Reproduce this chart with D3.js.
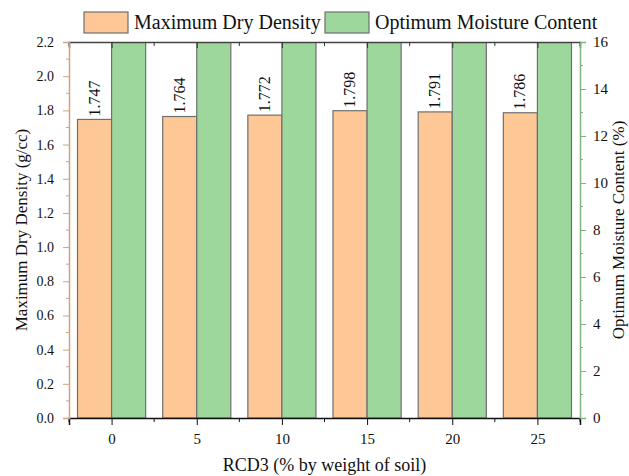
<!DOCTYPE html>
<html>
<head>
<meta charset="utf-8">
<script src="https://cdn.jsdelivr.net/npm/d3@7"></script>
<style>
  body { margin: 0; background: #fff; }
</style>
</head>
<body>
<div class="chart"></div>
<script>
// RCD3 content (% by weight of soil)
const rcd = [0, 5, 10, 15, 20, 25];
// maximum dry density (g/cc)
const mdd = [1.747, 1.764, 1.772, 1.798, 1.791, 1.786];
// optimum moisture content (%) - bars run past the 16 % top of the axis, estimated
const omc = [18.4, 18.1, 17.9, 17.6, 17.8, 18.0];
const leftTicks = d3.range(0, 2.21, 0.2);
const rightTicks = d3.range(0, 16.1, 2);

const width = 629, height = 476;
const plot = {left: 69, right: 580, top: 42, bottom: 418};

const orange = "#fdc896", green = "#9ed79b";
const tan = "#c9a585", axGreen = "#7fb57d";

const svg = d3.select(".chart")
  .append("svg")
  .attr("width", width)
  .attr("height", height);

const xScale = d3.scaleLinear()
  .domain([-2.5, 27.5])
  .range([plot.left, plot.right]);

const yLeft = d3.scaleLinear()
  .domain([0, 2.2])
  .range([plot.bottom, plot.top]);

const yRight = d3.scaleLinear()
  .domain([0, 16])
  .range([plot.bottom, plot.top]);

svg.append("clipPath")
  .attr("id", "clip")
  .append("rect")
  .attr("x", plot.left)
  .attr("y", plot.top)
  .attr("width", plot.right - plot.left)
  .attr("height", plot.bottom - plot.top);

const bars = svg.append("g").attr("clip-path", "url(#clip)");

bars.selectAll(".mdd")
  .data(rcd)
  .enter()
  .append("rect")
  .attr("class", "mdd")
  .attr("x", d => xScale(d - 2))
  .attr("width", d => xScale(d) - xScale(d - 2))
  .attr("y", (d, i) => yLeft(mdd[i]))
  .attr("height", (d, i) => yLeft(0) - yLeft(mdd[i]))
  .attr("fill", orange)
  .attr("stroke", "#6f6f6f")
  .attr("stroke-width", 1.2);

bars.selectAll(".omc")
  .data(rcd)
  .enter()
  .append("rect")
  .attr("class", "omc")
  .attr("x", d => xScale(d))
  .attr("width", d => xScale(d + 2) - xScale(d))
  .attr("y", (d, i) => yRight(omc[i]))
  .attr("height", (d, i) => yRight(0) - yRight(omc[i]))
  .attr("fill", green)
  .attr("stroke", "#6f6f6f")
  .attr("stroke-width", 1.2);

// value labels on the density bars
svg.selectAll(".lbl")
  .data(rcd)
  .enter()
  .append("text")
  .attr("class", "lbl")
  .attr("transform", (d, i) => `translate(${xScale(d - 1) + 5},${yLeft(mdd[i]) - 3}) rotate(-90)`)
  .attr("font-size", 16)
  .attr("fill", "#111")
  .text((d, i) => d3.format(".3f")(mdd[i]));

// axes
const minorX = d3.range(-2.5, 27.6, 5);

const axBottom = svg.append("g")
  .attr("transform", `translate(0,${plot.bottom})`)
  .call(d3.axisBottom(xScale).tickValues(rcd).tickSize(7).tickPadding(8).tickFormat(d3.format("d")));
axBottom.append("g").selectAll("line")
  .data(minorX).enter().append("line")
  .attr("x1", d => xScale(d)).attr("x2", d => xScale(d))
  .attr("y2", 4).attr("stroke", "#111");

const axTop = svg.append("g")
  .attr("transform", `translate(0,${plot.top})`)
  .call(d3.axisTop(xScale).tickValues(rcd).tickSize(-6).tickFormat(""));
axTop.append("g").selectAll("line")
  .data(minorX).enter().append("line")
  .attr("x1", d => xScale(d)).attr("x2", d => xScale(d))
  .attr("y2", 4).attr("stroke", "#333");

const axLeft = svg.append("g")
  .attr("transform", `translate(${plot.left},0)`)
  .call(d3.axisLeft(yLeft).tickValues(leftTicks).tickSize(6).tickPadding(9).tickFormat(d3.format(".1f")));
axLeft.append("g").selectAll("line")
  .data(d3.range(0.1, 2.2, 0.2)).enter().append("line")
  .attr("y1", d => yLeft(d)).attr("y2", d => yLeft(d))
  .attr("x2", -3).attr("stroke", tan);

const axRight = svg.append("g")
  .attr("transform", `translate(${plot.right},0)`)
  .call(d3.axisRight(yRight).tickValues(rightTicks).tickSize(6).tickPadding(7).tickFormat(d3.format("d")));
axRight.append("g").selectAll("line")
  .data(d3.range(1, 16, 2)).enter().append("line")
  .attr("y1", d => yRight(d)).attr("y2", d => yRight(d))
  .attr("x2", 3).attr("stroke", axGreen);

[axBottom, axTop, axLeft, axRight].forEach(g => {
  g.attr("font-family", null);
  g.selectAll("text").attr("font-size", 15).attr("fill", "#111");
  g.select(".domain").attr("stroke-width", 1.5);
});
axLeft.selectAll("text").attr("font-size", 14);
axBottom.selectAll("line, .domain").attr("stroke", "#111");
axTop.selectAll(".domain").attr("stroke", "#444");
axTop.selectAll(".tick line").attr("stroke", "#333");
axLeft.selectAll(".tick line, .domain").attr("stroke", tan);
axRight.selectAll(".tick line, .domain").attr("stroke", axGreen);

// axis titles
svg.append("text")
  .attr("x", (plot.left + plot.right) / 2)
  .attr("y", 471)
  .attr("text-anchor", "middle")
  .attr("font-size", 18)
  .attr("fill", "#111")
  .text("RCD3 (% by weight of soil)");

svg.append("text")
  .attr("transform", `translate(27,${(plot.top + plot.bottom) / 2}) rotate(-90)`)
  .attr("text-anchor", "middle")
  .attr("font-size", 17)
  .attr("fill", "#111")
  .text("Maximum Dry Density (g/cc)");

svg.append("text")
  .attr("transform", `translate(624,${(plot.top + plot.bottom) / 2}) rotate(-90)`)
  .attr("text-anchor", "middle")
  .attr("font-size", 17)
  .attr("fill", "#111")
  .text("Optimum Moisture Content (%)");

// legend
const legend = [
  {name: "Maximum Dry Density", color: orange, x: 84},
  {name: "Optimum Moisture Content", color: green, x: 325}
];
const lg = svg.append("g").selectAll("g")
  .data(legend).enter().append("g")
  .attr("transform", d => `translate(${d.x},12)`);
lg.append("rect")
  .attr("width", 44).attr("height", 21)
  .attr("fill", d => d.color)
  .attr("stroke", "#6f6f6f")
  .attr("stroke-width", 1.2);
lg.append("text")
  .attr("x", 50).attr("y", 17)
  .attr("font-size", 20)
  .attr("fill", "#111")
  .text(d => d.name);

// Times-like face for every text
svg.attr("font-family", "Liberation Serif");
svg.selectAll("text").style("font-family", "'Liberation Serif', Tinos, 'Times New Roman'");
</script>
</body>
</html>
